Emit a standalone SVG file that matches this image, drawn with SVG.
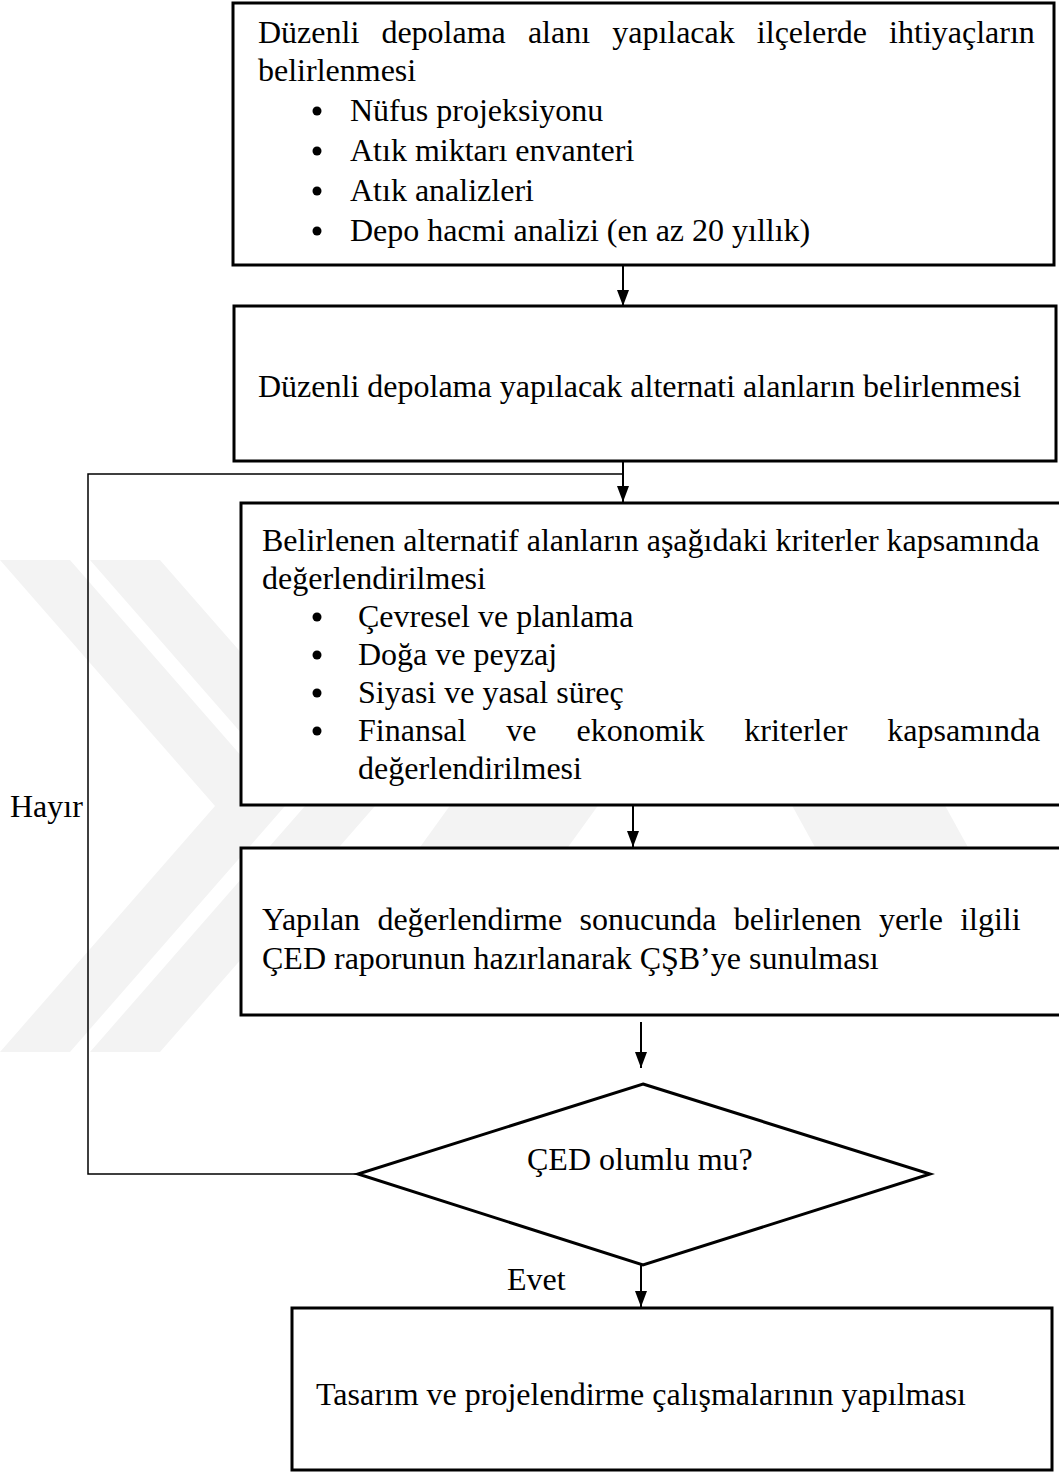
<svg xmlns="http://www.w3.org/2000/svg" width="1059" height="1472" viewBox="0 0 1059 1472">
  <style>
    .box { fill: #ffffff; stroke: #000000; stroke-width: 3; }
    .txt { font-family: "Liberation Serif", "Times New Roman", serif; font-size: 32px; fill: #000000; }
    .flow { fill: none; stroke: #000000; stroke-width: 2; }
    .loop { fill: none; stroke: #000000; stroke-width: 1.5; }
    .wm { fill: #f3f3f3; }
  </style>
  <defs>
    <marker id="arrow" viewBox="0 0 16 12" refX="16" refY="6" markerWidth="16" markerHeight="12" markerUnits="userSpaceOnUse" orient="auto">
      <path d="M0,0 L16,6 L0,12 Z" fill="#000000"/>
    </marker>
  </defs>

  <rect width="1059" height="1472" fill="#ffffff"/>

  <!-- faint background watermark: two chevrons and a slanted peak -->
  <g id="watermark">
    <polygon class="wm" points="0,560 70,560 285,806 70,1052 0,1052 215,806"/>
    <polygon class="wm" points="90,560 160,560 375,806 160,1052 90,1052 305,806"/>
    <polygon class="wm" points="627,560 775,560 447,1015 299,1015"/>
    <polygon class="wm" points="657,560 810,560 1052,1000 899,1000"/>
  </g>

  <!-- connectors -->
  <g id="connectors">
    <line class="flow" x1="623" y1="265" x2="623" y2="306" marker-end="url(#arrow)"/>
    <line class="flow" x1="623" y1="455" x2="623" y2="502" marker-end="url(#arrow)"/>
    <line class="flow" x1="633" y1="800" x2="633" y2="847" marker-end="url(#arrow)"/>
    <line class="flow" x1="641" y1="1022" x2="641" y2="1068" marker-end="url(#arrow)"/>
    <line class="flow" x1="641" y1="1265" x2="641" y2="1307" marker-end="url(#arrow)"/>
    <path class="loop" d="M358,1174 H88 V474 H623"/>
    <text class="txt" x="10" y="817">Hayır</text>
    <text class="txt" x="507" y="1290">Evet</text>
  </g>

  <!-- step 1: needs assessment -->
  <g id="node-needs">
    <rect class="box" x="233" y="3" width="821" height="262"/>
    <text class="txt" x="258" y="43" word-spacing="14.1">Düzenli depolama alanı yapılacak ilçelerde ihtiyaçların</text>
    <text class="txt" x="258" y="81">belirlenmesi</text>
    <circle cx="317" cy="111" r="4.5"/>
    <text class="txt" x="350" y="121">Nüfus projeksiyonu</text>
    <circle cx="317" cy="151" r="4.5"/>
    <text class="txt" x="350" y="161">Atık miktarı envanteri</text>
    <circle cx="317" cy="191" r="4.5"/>
    <text class="txt" x="350" y="201">Atık analizleri</text>
    <circle cx="317" cy="231" r="4.5"/>
    <text class="txt" x="350" y="241">Depo hacmi analizi (en az 20 yıllık)</text>
  </g>

  <!-- step 2: alternative sites -->
  <g id="node-sites">
    <rect class="box" x="234" y="306" width="822" height="155"/>
    <text class="txt" x="258" y="397">Düzenli depolama yapılacak alternati alanların belirlenmesi</text>
  </g>

  <!-- step 3: evaluation of alternatives -->
  <g id="node-evaluate">
    <rect class="box" x="241" y="503" width="822" height="302"/>
    <text class="txt" x="262" y="551">Belirlenen alternatif alanların aşağıdaki kriterler kapsamında</text>
    <text class="txt" x="262" y="589">değerlendirilmesi</text>
    <circle cx="317" cy="617" r="4.5"/>
    <text class="txt" x="358" y="627">Çevresel ve planlama</text>
    <circle cx="317" cy="655" r="4.5"/>
    <text class="txt" x="358" y="665">Doğa ve peyzaj</text>
    <circle cx="317" cy="693" r="4.5"/>
    <text class="txt" x="358" y="703">Siyasi ve yasal süreç</text>
    <circle cx="317" cy="731" r="4.5"/>
    <text class="txt" x="358" y="741" word-spacing="31.9">Finansal ve ekonomik kriterler kapsamında</text>
    <text class="txt" x="358" y="779">değerlendirilmesi</text>
  </g>

  <!-- step 4: EIA report -->
  <g id="node-report">
    <rect class="box" x="241" y="848" width="822" height="167"/>
    <text class="txt" x="262" y="930" word-spacing="9.3">Yapılan değerlendirme sonucunda belirlenen yerle ilgili</text>
    <text class="txt" x="262" y="969">ÇED raporunun hazırlanarak ÇŞB’ye sunulması</text>
  </g>

  <!-- decision -->
  <g id="node-decision">
    <polygon class="box" points="643,1084 930,1174 643,1265 358,1174"/>
    <text class="txt" x="527" y="1170">ÇED olumlu mu?</text>
  </g>

  <!-- step 5: design -->
  <g id="node-design">
    <rect class="box" x="292" y="1308" width="760" height="162"/>
    <text class="txt" x="316" y="1405">Tasarım ve projelendirme çalışmalarının yapılması</text>
  </g>
</svg>
